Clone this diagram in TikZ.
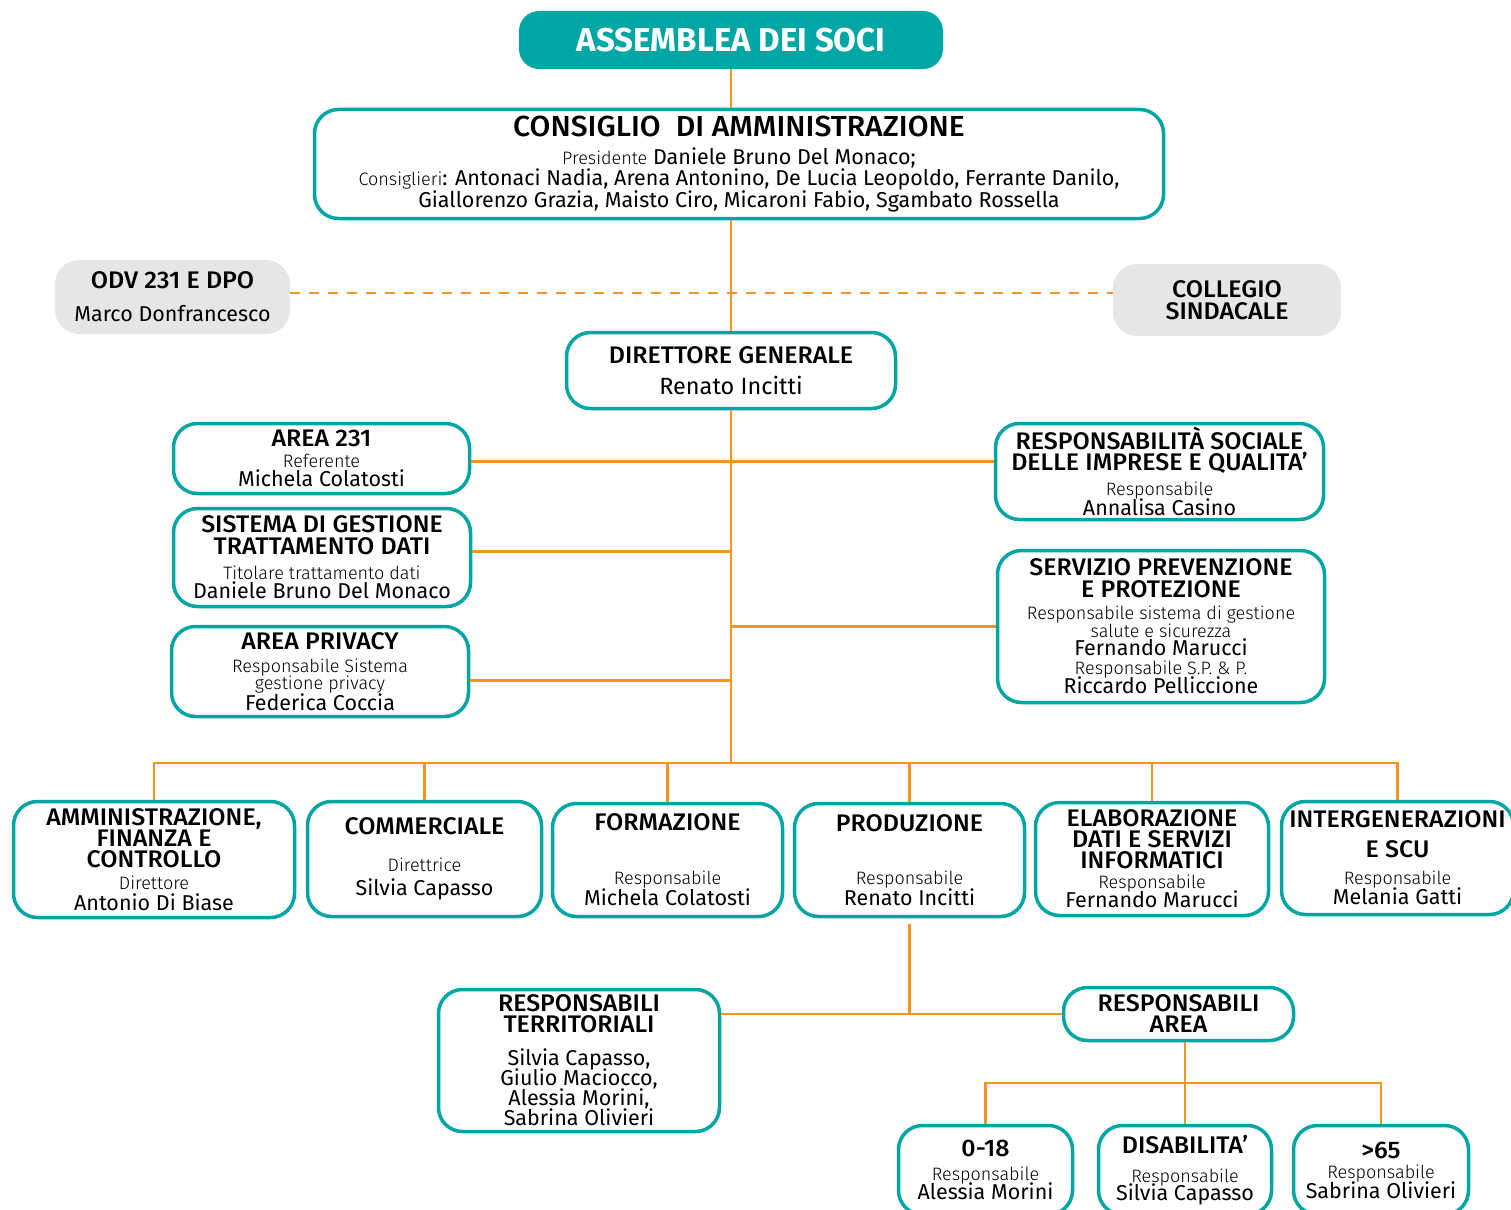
\documentclass[tikz,border=0pt]{standalone}
\usepackage{fontspec}
\setmainfont{Fira Sans}
\newfontfamily\medfont{Fira Sans Medium}[FakeStretch=1.04]
\newfontfamily\lightfont{Fira Sans Light}
\usetikzlibrary{calc}
\usetikzlibrary{positioning}

\definecolor{tealbox}{RGB}{0,166,163}
\definecolor{orangeline}{RGB}{247,148,29}
\definecolor{greybox}{RGB}{230,230,230}

\newcommand\tightlines{\lineskiplimit=-1000pt\relax\lineskip=0pt\relax}
\newcommand\ttl[1]{{\medfont\fontsize{24}{0}\selectfont #1}}
\newcommand\ttlbig[1]{{\medfont\fontsize{29}{0}\selectfont #1}}
\newcommand\rl[1]{{\lightfont\fontsize{18}{0}\selectfont #1}}
\newcommand\nm[1]{{\fontsize{21.5}{0}\selectfont #1}}

\tikzset{
  unitbox/.style={draw=tealbox, line width=3.5pt, rounded corners=24pt, fill=white,
    align=center, inner sep=0pt, font=\fontsize{21.5}{0}\selectfont\tightlines},
  sidebox/.style={fill=greybox, rounded corners=24pt,
    align=center, inner sep=0pt, font=\fontsize{21.5}{0}\selectfont\tightlines},
  link/.style={draw=orangeline, line width=2.5pt},
}

\begin{document}
\begin{tikzpicture}[x=1pt,y=-1pt]
\useasboundingbox (0,0) rectangle (1511,1209);

\node[fill=tealbox, rounded corners=20pt, minimum width=424, minimum height=58, inner sep=0pt,
  text=white, font=\bfseries\fontsize{33}{33}\selectfont] (assemblea) at (731,40) {ASSEMBLEA DEI SOCI};
\node[unitbox, minimum width=849, minimum height=109] (cda) at (739,164)
  {\ttlbig{CONSIGLIO~ DI AMMINISTRAZIONE}\\[28pt]\rl{Presidente} \nm{Daniele Bruno Del Monaco;}\\[21pt]\rl{Consiglieri}\nm{: Antonaci Nadia, Arena Antonino, De Lucia Leopoldo, Ferrante Danilo,}\\[22pt]\nm{Giallorenzo Grazia, Maisto Ciro, Micaroni Fabio, Sgambato Rossella}};

\node[sidebox, minimum width=235, minimum height=74] (odv) at (172.5,297)
  {\ttl{ODV 231 E DPO}\\[33pt]\nm{Marco Donfrancesco}};
\node[sidebox, minimum width=228, minimum height=72] (collegio) at (1227,300)
  {\ttl{COLLEGIO}\\[22pt]\ttl{SINDACALE}};

\node[unitbox, minimum width=329, minimum height=76] (dg) at (731,370.5)
  {\ttl{DIRETTORE GENERALE}\\[31pt]{\fontsize{23.5}{0}\selectfont Renato Incitti}};

\node[unitbox, minimum width=296, minimum height=70] (area231) at (321.5,458.5)
  {\ttl{AREA 231}\\[21pt]\rl{Referente}\\[19pt]\nm{Michela Colatosti}};
\node[unitbox, minimum width=297, minimum height=98] (sgtd) at (322,557.5)
  {\ttl{SISTEMA DI GESTIONE}\\[22pt]\ttl{TRATTAMENTO DATI}\\[25pt]\rl{Titolare trattamento dati}\\[19pt]\nm{Daniele Bruno Del Monaco}};
\node[unitbox, minimum width=297, minimum height=90] (privacy) at (320,671.5)
  {\ttl{AREA PRIVACY}\\[23pt]\rl{Responsabile Sistema}\\[17pt]\rl{gestione privacy}\\[21pt]\nm{Federica Coccia}};

\node[unitbox, minimum width=328, minimum height=96] (rsoc) at (1159.5,471.5)
  {\ttl{RESPONSABILITÀ SOCIALE}\\[21pt]\ttl{DELLE IMPRESE E QUALITA’}\\[25pt]\rl{Responsabile}\\[20pt]\nm{Annalisa Casino}};
\node[unitbox, minimum width=327, minimum height=152] (spp) at (1161,626.5)
  {\ttl{SERVIZIO PREVENZIONE}\\[22pt]\ttl{E PROTEZIONE}\\[22pt]\rl{Responsabile sistema di gestione}\\[18pt]\rl{salute e sicurezza}\\[18pt]\nm{Fernando Marucci}\\[19pt]\rl{Responsabile S.P. \& P.}\\[19pt]\nm{Riccardo Pelliccione}};

\node[unitbox, minimum width=281, minimum height=116] (amm) at (154,859.5)
  {\ttl{AMMINISTRAZIONE,}\\[21pt]\ttl{FINANZA E}\\[21pt]\ttl{CONTROLLO}\\[22pt]\rl{Direttore}\\[21pt]\nm{Antonio Di Biase}};
\node[unitbox, minimum width=234, minimum height=115] (comm) at (424.5,859)
  {\ttl{COMMERCIALE}\\[37pt]\rl{Direttrice}\\[24pt]\nm{Silvia Capasso}};
\node[unitbox, minimum width=230, minimum height=113] (form) at (667.5,860)
  {\ttl{FORMAZIONE}\\[54pt]\rl{Responsabile}\\[21pt]\nm{Michela Colatosti}};
\node[unitbox, minimum width=230, minimum height=113] (prod) at (909.5,860)
  {\ttl{PRODUZIONE}\\[53pt]\rl{Responsabile}\\[21pt]\nm{Renato Incitti}};
\node[unitbox, minimum width=233, minimum height=113] (elab) at (1152,859)
  {\ttl{ELABORAZIONE}\\[21pt]\ttl{DATI E SERVIZI}\\[21pt]\ttl{INFORMATICI}\\[20pt]\rl{Responsabile}\\[19pt]\nm{Fernando Marucci}};
\node[unitbox, minimum width=232, minimum height=113] (inter) at (1397.5,858)
  {\ttl{INTERGENERAZIONI}\\[30pt]\ttl{E SCU}\\[27pt]\rl{Responsabile}\\[20pt]\nm{Melania Gatti}};

\node[unitbox, minimum width=281, minimum height=142] (terr) at (579,1060.5)
  {\ttl{RESPONSABILI}\\[21pt]\ttl{TERRITORIALI}\\[33pt]\nm{Silvia Capasso,}\\[20pt]\nm{Giulio Maciocco,}\\[20pt]\nm{Alessia Morini,}\\[20pt]\nm{Sabrina Olivieri}};
\node[unitbox, minimum width=230, minimum height=53] (rarea) at (1178.5,1014)
  {\ttl{RESPONSABILI}\\[21pt]\ttl{AREA}};

\node[unitbox, minimum width=174, minimum height=89] (young) at (985.5,1170)
  {\ttl{0-18}\\[24pt]\rl{Responsabile}\\[19pt]\nm{Alessia Morini}};
\node[unitbox, minimum width=173, minimum height=89] (dis) at (1185,1170)
  {\ttl{DISABILITA’}\\[29pt]\rl{Responsabile}\\[18pt]\nm{Silvia Capasso}};
\node[unitbox, minimum width=175, minimum height=89] (old) at (1381,1170)
  {\ttl{>65}\\[20pt]\rl{Responsabile}\\[20pt]\nm{Sabrina Olivieri}};

\coordinate (bus) at (731,763);
\coordinate (abus) at (1185,1083);

\draw[link] (assemblea.south) -- (assemblea.south |- cda.north);
\draw[link] (dg.north |- cda.south) -- (dg.north);
\draw[link, dashed, dash pattern=on 10pt off 9pt] ([yshift=4pt]odv.east) -- ([yshift=4pt]odv.east -| collegio.west);
\draw[link] (dg.south) -- (bus);
\draw[link] ([yshift=-3pt]area231.east) -- ([yshift=-3pt]area231.east -| rsoc.west);
\draw[link] ([yshift=6pt]sgtd.east) -- ([yshift=6pt]sgtd.east -| dg.south);
\draw[link] (spp.west) -- (spp.west -| dg.south);
\draw[link] ([yshift=-9pt]privacy.east) -- ([yshift=-9pt]privacy.east -| dg.south);
\foreach \n in {amm,comm,form,prod,elab,inter}{
  \draw[link] (bus) -| (\n.north);
}
\draw[link] ([yshift=-6pt]prod.south) -- (prod.south |- rarea.west);
\draw[link] (terr.east |- rarea.west) -- (rarea.west);
\draw[link] (rarea.south -| abus) -- (abus);
\foreach \n in {young,dis,old}{
  \draw[link] (abus) -| (\n.north);
}
\end{tikzpicture}
\end{document}
